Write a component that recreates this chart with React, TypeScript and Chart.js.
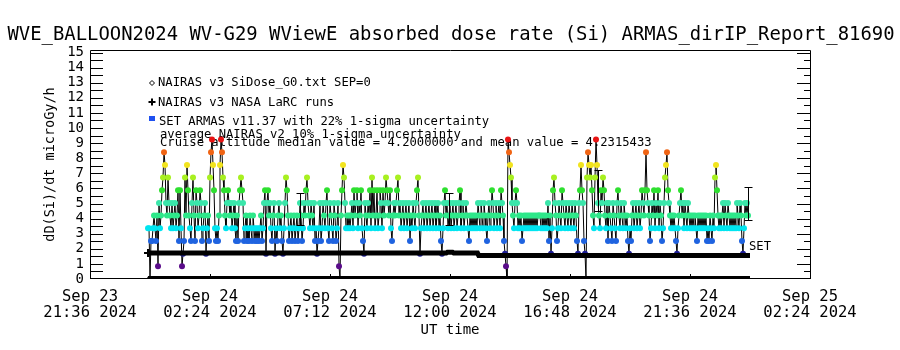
import React, { useEffect, useRef } from 'react';
import { Chart, registerables } from 'chart.js';

Chart.register(...registerables);

const FONT = "'DejaVu Sans Mono', monospace";

const TITLE = 'WVE_BALLOON2024 WV-G29 WViewE absorbed dose rate (Si) ARMAS_dirIP_Report_81690';
const Y_AXIS_TITLE = 'dD(Si)/dt microGy/h';
const X_AXIS_TITLE = 'UT time';

// x axis: hours after Sep 23 21:36 UT
const X_MIN_H = 0;
const X_MAX_H = 28.8;
const X_TICK_HOURS = [0, 4.8, 9.6, 14.4, 19.2, 24, 28.8];
const X_TICK_DATES = ['Sep 23', 'Sep 24', 'Sep 24', 'Sep 24', 'Sep 24', 'Sep 24', 'Sep 25'];
const X_TICK_TIMES = ['21:36 2024', '02:24 2024', '07:12 2024', '12:00 2024', '16:48 2024', '21:36 2024', '02:24 2024'];

const Y_MIN = 0;
const Y_MAX = 15.17;
const Y_TICK_VALUES = [0, 1, 2, 3, 4, 5, 6, 7, 8, 9, 10, 11, 12, 13, 14, 15];
const Y_TICK_LABELS = ['0', '1', '2', '3', '4', '5', '6', '7', '8', '9', '10', '11', '12', '13', '14', '15'];

const LEGEND_TEXTS = [
  'NAIRAS v3 SiDose_G0.txt SEP=0',
  'NAIRAS v3 NASA LaRC runs',
  'SET ARMAS v11.37 with 22% 1-sigma uncertainty',
];
const NOTE_TEXTS = [
  'average NAIRAS v2 10% 1-sigma uncertainty',
  'Cruise altitude median value = 4.2000000 and mean value = 4.2315433',
];
const SERIES_TAG = 'SET';

// ARMAS quantised dose-rate levels (microGy/h) and their plot colours
const LEVEL_VALUES = [0, 0.84, 1.68, 2.52, 3.36, 4.2, 5.04, 5.88, 6.72, 7.56, 8.4, 9.24];
const LEVEL_COLORS = [
  '#000000', '#5a0c8a', '#1c1c96', '#1f63e0', '#00e5f0', '#2ee88a',
  '#3ae6aa', '#2ee030', '#a8f020', '#f2e41e', '#f06414', '#e81414',
];

// ARMAS samples (level index per sample), regular cadence
const ARMAS_START_H = 2.32;
const ARMAS_STEP_H = 0.04;
const ARMAS_LEVEL = [
  4, 4, 0, 3, 3, 4, 5, 4, 3, 5, 1, 6, 4, 5, 7, 8, 10, 9, 6, 5,
  8, 6, 5, 4, 6, 4, 5, 6, 4, 5, 7, 3, 7, 4, 1, 2, 3, 8, 5, 9,
  7, 5, 4, 3, 6, 8, 5, 3, 7, 6, 4, 5, 7, 6, 3, 4, 5, 6, 2, 4,
  5, 3, 8, 10, 11, 9, 7, 4, 3, 4, 3, 5, 9, 11, 10, 8, 7, 5, 4, 6,
  7, 6, 5, 6, 4, 5, 6, 4, 3, 5, 3, 6, 7, 8, 7, 6, 3, 4, 5, 3,
  4, 3, 5, 4, 3, 5, 4, 3, 4, 3, 4, 3, 4, 5, 3, 4, 6, 7, 2, 6,
  7, 5, 6, 4, 3, 5, 6, 2, 4, 3, 5, 6, 4, 5, 3, 2, 4, 6, 8, 7,
  5, 3, 4, 5, 3, 4, 5, 3, 4, 5, 3, 4, 6, 5, 3, 4, 6, 5, 7, 8,
  6, 5, 4, 6, 5, 4, 6, 3, 4, 2, 3, 4, 6, 3, 4, 6, 5, 4, 6, 7,
  4, 3, 6, 5, 4, 3, 6, 5, 3, 4, 6, 1, 0, 5, 7, 9, 8, 6, 4, 5,
  4, 5, 4, 5, 6, 4, 7, 5, 6, 7, 4, 6, 5, 7, 4, 3, 2, 6, 5, 4,
  6, 5, 7, 4, 8, 5, 7, 4, 5, 7, 4, 5, 7, 6, 4, 7, 5, 6, 8, 7,
  6, 5, 7, 4, 3, 5, 6, 5, 6, 7, 8, 5, 6, 4, 5, 6, 4, 5, 6, 4,
  5, 6, 3, 5, 4, 6, 5, 4, 6, 7, 8, 5, 2, 4, 5, 6, 4, 5, 6, 4,
  5, 6, 4, 5, 6, 4, 5, 6, 4, 5, 6, 4, 5, 3, 2, 4, 6, 7, 5, 6,
  4, 5, 6, 4, 5, 6, 4, 5, 6, 4, 5, 6, 7, 4, 5, 6, 4, 5, 6, 5,
  4, 3, 5, 4, 5, 4, 5, 4, 5, 4, 6, 5, 4, 6, 5, 4, 6, 5, 4, 3,
  5, 6, 4, 5, 7, 6, 4, 5, 6, 4, 5, 6, 4, 7, 6, 5, 3, 2, 1, 0,
  11, 10, 9, 8, 6, 5, 4, 6, 7, 6, 4, 5, 4, 5, 3, 4, 5, 4, 5, 4,
  5, 4, 5, 4, 5, 4, 5, 4, 5, 4, 5, 5, 5, 4, 5, 4, 5, 4, 5, 4,
  6, 3, 5, 2, 4, 7, 8, 6, 5, 3, 4, 6, 5, 4, 7, 6, 5, 4, 6, 5,
  4, 6, 5, 4, 6, 5, 4, 6, 5, 3, 2, 6, 7, 9, 7, 6, 3, 2, 0, 8,
  10, 9, 8, 9, 7, 5, 4, 8, 11, 9, 6, 5, 4, 7, 6, 8, 7, 5, 4, 6,
  3, 6, 5, 4, 3, 6, 5, 4, 3, 6, 7, 5, 4, 6, 5, 4, 6, 5, 4, 5,
  3, 2, 4, 3, 5, 6, 4, 5, 6, 4, 5, 6, 4, 5, 7, 6, 5, 7, 10, 7,
  6, 5, 3, 4, 6, 5, 7, 4, 6, 5, 7, 4, 6, 5, 3, 4, 6, 8, 9, 10,
  7, 6, 5, 4, 5, 4, 5, 4, 3, 2, 4, 5, 6, 7, 5, 6, 4, 6, 5, 4,
  6, 5, 4, 5, 4, 5, 4, 5, 4, 3, 5, 4, 5, 4, 5, 4, 5, 4, 5, 3,
  4, 3, 5, 4, 3, 5, 4, 8, 9, 7, 5, 4, 5, 4, 5, 6, 4, 6, 5, 4,
  6, 5, 4, 5, 4, 5, 4, 5, 4, 6, 5, 4, 6, 5, 3, 2, 4, 6, 5, 6,
  5,
];

// NAIRAS v3 NASA LaRC runs
const LARC_HOURS = [2.32, 6.0, 10.0, 14.25, 14.3, 14.5, 14.55, 15.5, 15.55, 20.0, 26.4];
const LARC_VALUES = [1.72, 1.72, 1.72, 1.72, 1.78, 1.78, 1.72, 1.72, 1.55, 1.55, 1.55];

// NAIRAS v3 SiDose_G0 SEP=0
const SIDOSE_HOURS = [2.32, 8.0, 14.0, 20.0, 26.4];
const SIDOSE_VALUES = [0.1, 0.1, 0.1, 0.1, 0.1];

// SET ARMAS 22% 1-sigma error bars
const ERR_HOURS = [8.4, 14.36, 20.32, 26.32];
const ERR_CENTER = [4.62, 4.62, 5.88, 5.02];
const ERR_SIGMA = [1.07, 1.07, 1.35, 1.1];

const Y_MINOR_TICKS: number[] = [];
for (let v = 0.5; v <= 15.01; v += 0.5) Y_MINOR_TICKS.push(Math.round(v * 10) / 10);

const idlOverlay = {
  id: 'idlOverlay',
  beforeDatasetsDraw(chart: any) {
    const ctx = chart.ctx as CanvasRenderingContext2D;
    ctx.save();
    ctx.fillStyle = '#000';
    ctx.strokeStyle = '#000';
    ctx.font = `12.2px ${FONT}`;
    ctx.textAlign = 'left';
    ctx.textBaseline = 'alphabetic';
    ctx.fillText(LEGEND_TEXTS[0], 158, 86);
    ctx.fillText(LEGEND_TEXTS[1], 158, 106);
    ctx.fillText(LEGEND_TEXTS[2], 159, 125);
    ctx.fillText(NOTE_TEXTS[0], 160, 138);
    ctx.fillText(NOTE_TEXTS[1], 160, 146);
    // diamond
    ctx.lineWidth = 1;
    ctx.beginPath();
    ctx.moveTo(152, 80.5);
    ctx.lineTo(154.5, 83);
    ctx.lineTo(152, 85.5);
    ctx.lineTo(149.5, 83);
    ctx.closePath();
    ctx.stroke();
    // plus
    ctx.lineWidth = 2;
    ctx.beginPath();
    ctx.moveTo(148.5, 102);
    ctx.lineTo(155.5, 102);
    ctx.moveTo(152, 98.5);
    ctx.lineTo(152, 105.5);
    ctx.stroke();
    // square
    ctx.fillStyle = '#1e50f0';
    ctx.fillRect(149, 116, 6, 5);
    ctx.restore();
  },
  afterDatasetsDraw(chart: any) {
    const ctx = chart.ctx as CanvasRenderingContext2D;
    const a = chart.chartArea;
    const xs = chart.scales.x;
    const ys = chart.scales.y;
    ctx.save();
    ctx.strokeStyle = '#000';
    ctx.lineWidth = 1;
    // error bars
    ERR_HOURS.forEach((h, i) => {
      const px = Math.round(xs.getPixelForValue(h)) + 0.5;
      const top = Math.round(ys.getPixelForValue(ERR_CENTER[i] + ERR_SIGMA[i])) + 0.5;
      const bot = Math.round(ys.getPixelForValue(ERR_CENTER[i] - ERR_SIGMA[i])) + 0.5;
      ctx.beginPath();
      ctx.moveTo(px, top);
      ctx.lineTo(px, bot);
      ctx.moveTo(px - 4, top);
      ctx.lineTo(px + 4, top);
      ctx.moveTo(px - 4, bot);
      ctx.lineTo(px + 4, bot);
      ctx.stroke();
    });
    // frame
    ctx.beginPath();
    ctx.rect(a.left + 0.5, a.top + 0.5, a.right - a.left, a.bottom - a.top - 1);
    ctx.stroke();
    // left / right ticks
    ctx.beginPath();
    Y_MINOR_TICKS.forEach((v) => {
      const py = Math.round(ys.getPixelForValue(v)) + 0.5;
      if (py <= a.top + 1) return;
      ctx.moveTo(a.left, py);
      ctx.lineTo(a.left + 13, py);
      const isMajor = Math.abs(v - Math.round(v)) < 1e-6;
      ctx.moveTo(a.right + 1, py);
      ctx.lineTo(a.right + 1 - (isMajor ? 14 : 7), py);
    });
    // bottom ticks
    X_TICK_HOURS.forEach((h) => {
      const px = Math.round(xs.getPixelForValue(h)) + 0.5;
      ctx.moveTo(px, a.bottom);
      ctx.lineTo(px, a.bottom - 5);
    });
    ctx.stroke();
    // series tag
    ctx.fillStyle = '#000';
    ctx.font = `12.2px ${FONT}`;
    ctx.textAlign = 'left';
    ctx.textBaseline = 'alphabetic';
    const lastH = ARMAS_START_H + (ARMAS_LEVEL.length - 1) * ARMAS_STEP_H;
    ctx.fillText(SERIES_TAG, xs.getPixelForValue(lastH) + 1, ys.getPixelForValue(1.9));
    ctx.restore();
  },
  afterDraw(chart: any) {
    const ctx = chart.ctx as CanvasRenderingContext2D;
    ctx.save();
    ctx.fillStyle = '#000';
    ctx.font = `18.9px ${FONT}`;
    ctx.textAlign = 'center';
    ctx.textBaseline = 'alphabetic';
    ctx.fillText(TITLE, 451, 39.5);
    ctx.restore();
  },
};

export default function App() {
  const ref = useRef<HTMLCanvasElement>(null);
  useEffect(() => {
    document.body.style.margin = '0';
    Chart.defaults.color = '#000';
    Chart.defaults.font.family = FONT;
    const armasData = ARMAS_LEVEL.map((lvl, i) => ({ x: ARMAS_START_H + i * ARMAS_STEP_H, y: LEVEL_VALUES[lvl] }));
    const armasColors = ARMAS_LEVEL.map((lvl) => LEVEL_COLORS[lvl]);
    const chart = new Chart(ref.current as HTMLCanvasElement, {
      type: 'line',
      data: {
        datasets: [
          {
            label: LEGEND_TEXTS[1],
            data: LARC_HOURS.map((h, i) => ({ x: h, y: LARC_VALUES[i] })),
            borderColor: '#000',
            borderWidth: 5,
            pointStyle: 'cross',
            pointRadius: LARC_HOURS.map((_, i) => (i === 0 ? 4 : 0)),
            pointBorderColor: '#000',
            pointBorderWidth: 2,
            order: 0,
          },
          {
            label: LEGEND_TEXTS[0],
            data: SIDOSE_HOURS.map((h, i) => ({ x: h, y: SIDOSE_VALUES[i] })),
            borderColor: '#000',
            borderWidth: 3,
            pointRadius: 0,
            order: 1,
          },
          {
            label: LEGEND_TEXTS[2],
            data: armasData,
            borderColor: '#000',
            borderWidth: 1,
            pointRadius: 3,
            pointStyle: 'circle',
            pointBackgroundColor: armasColors,
            pointBorderColor: armasColors,
            pointBorderWidth: 0,
            order: 2,
          },
        ] as any,
      },
      options: {
        animation: false,
        responsive: false,
        events: [],
        layout: { padding: { left: 0, right: 90, top: 50, bottom: 0 } },
        plugins: {
          legend: { display: false },
          tooltip: { enabled: false },
          title: { display: false },
        },
        scales: {
          x: {
            type: 'linear',
            min: X_MIN_H,
            max: X_MAX_H,
            afterBuildTicks: (s: any) => {
              s.ticks = X_TICK_HOURS.map((v) => ({ value: v }));
            },
            afterFit: (s: any) => {
              s.height = 71;
            },
            grid: { display: false, drawTicks: false },
            border: { display: false },
            ticks: {
              autoSkip: false,
              maxRotation: 0,
              minRotation: 0,
              padding: 10,
              color: '#000',
              font: { family: FONT, size: 15.5, lineHeight: '16px' },
              callback: (_v: any, i: number) => [X_TICK_DATES[i], X_TICK_TIMES[i]],
            },
            title: {
              display: true,
              text: X_AXIS_TITLE,
              color: '#000',
              font: { family: FONT, size: 14 },
              padding: { top: 0, bottom: 11.6 },
            },
          },
          y: {
            type: 'linear',
            min: Y_MIN,
            max: Y_MAX,
            afterBuildTicks: (s: any) => {
              s.ticks = Y_TICK_VALUES.map((v) => ({ value: v }));
            },
            afterFit: (s: any) => {
              s.width = 90;
            },
            grid: { display: false, drawTicks: false },
            border: { display: false },
            ticks: {
              autoSkip: false,
              padding: 6,
              color: '#000',
              font: { family: FONT, size: 14 },
              callback: (_v: any, i: number) => Y_TICK_LABELS[i],
            },
            title: {
              display: true,
              text: Y_AXIS_TITLE,
              color: '#000',
              font: { family: FONT, size: 13.5 },
              padding: { top: 41.9, bottom: 0 },
            },
          },
        },
      } as any,
      plugins: [idlOverlay],
    });
    return () => chart.destroy();
  }, []);
  return (
    <div style={{ width: 900, height: 350, background: '#fff' }}>
      <canvas ref={ref} width={900} height={350} style={{ display: 'block' }} />
    </div>
  );
}
